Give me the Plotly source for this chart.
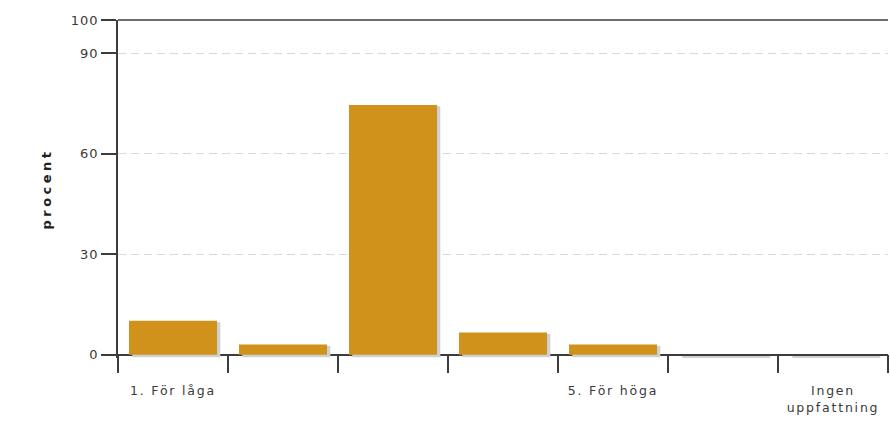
import plotly.graph_objects as go

categories = ["1. För låga", "2", "3", "4", "5. För höga", "6", "Ingen uppfattning"]
tick_labels = ["1. För låga", "", "", "", "5. För höga", "", "Ingen<br>uppfattning"]
values = [10.1, 3.0, 74.6, 6.6, 3.0, 0.0, 0.0]
y_ticks = [0, 30, 60, 90, 100]

BAR = "#D0921B"
SHADOW = "#CDD1D6"
AX = "#3C3C3C"
TXT = "#3A3A3A"

def spaced(s, px):
    return "<br>".join(f'<span style="letter-spacing:{px}px">{p}</span>' for p in s.split("<br>"))

fig = go.Figure()
# shadow
fig.add_trace(go.Bar(
    x=categories, y=[v + 0.4 for v in values], base=-0.8,
    width=0.8, offset=-0.37, marker=dict(color=SHADOW, line=dict(width=0)),
    hoverinfo="skip", showlegend=False))
fig.add_trace(go.Bar(
    x=categories, y=values, width=0.8, offset=-0.4,
    marker=dict(color=BAR, line=dict(width=0)), showlegend=False))

ymin = -1.0
fig.update_layout(
    barmode="overlay",
    width=890, height=421,
    margin=dict(l=118, r=2, t=20, b=63),
    paper_bgcolor="white", plot_bgcolor="white",
    font=dict(family="DejaVu Sans", size=13, color=TXT),
    xaxis=dict(
        type="category", categoryorder="array", categoryarray=categories,
        tickmode="array", tickvals=categories,
        ticktext=[spaced(t, 1.8) for t in tick_labels],
        tickson="boundaries", ticks="outside", ticklen=18, tickwidth=1.5, tickcolor=AX,
        showline=True, linecolor=AX, linewidth=1.5,
        showgrid=False, anchor="free", position=(0 - ymin) / (100 - ymin),
        tickfont=dict(size=12.5, color=TXT), layer="below traces",
        automargin=False, ticklabelstandoff=25,
    ),
    yaxis=dict(
        range=[ymin, 100], tickmode="array", tickvals=y_ticks,
        ticktext=[spaced(str(t), 1.0) for t in y_ticks],
        ticks="outside", ticklen=15, tickwidth=1.5, tickcolor=AX,
        showline=True, linecolor=AX, linewidth=1.5,
        showgrid=True, gridcolor="#D3DAE1", griddash="8px,5px", gridwidth=1,
        zeroline=False, tickfont=dict(size=13, color=TXT),
        automargin=False,
        title=dict(text="<b>" + spaced("procent", 3.5) + "</b>", font=dict(size=13, color="#222222"), standoff=16),
    ),
    shapes=[dict(type="line", xref="paper", yref="paper", x0=0, x1=1, y0=1, y1=1,
                 line=dict(color=AX, width=1.5), layer="above")],
)

fig.write_html(
    "out.html",
    config={"displayModeBar": False},
    post_script="document.body.style.margin='0';document.body.style.overflow='hidden';",
)
